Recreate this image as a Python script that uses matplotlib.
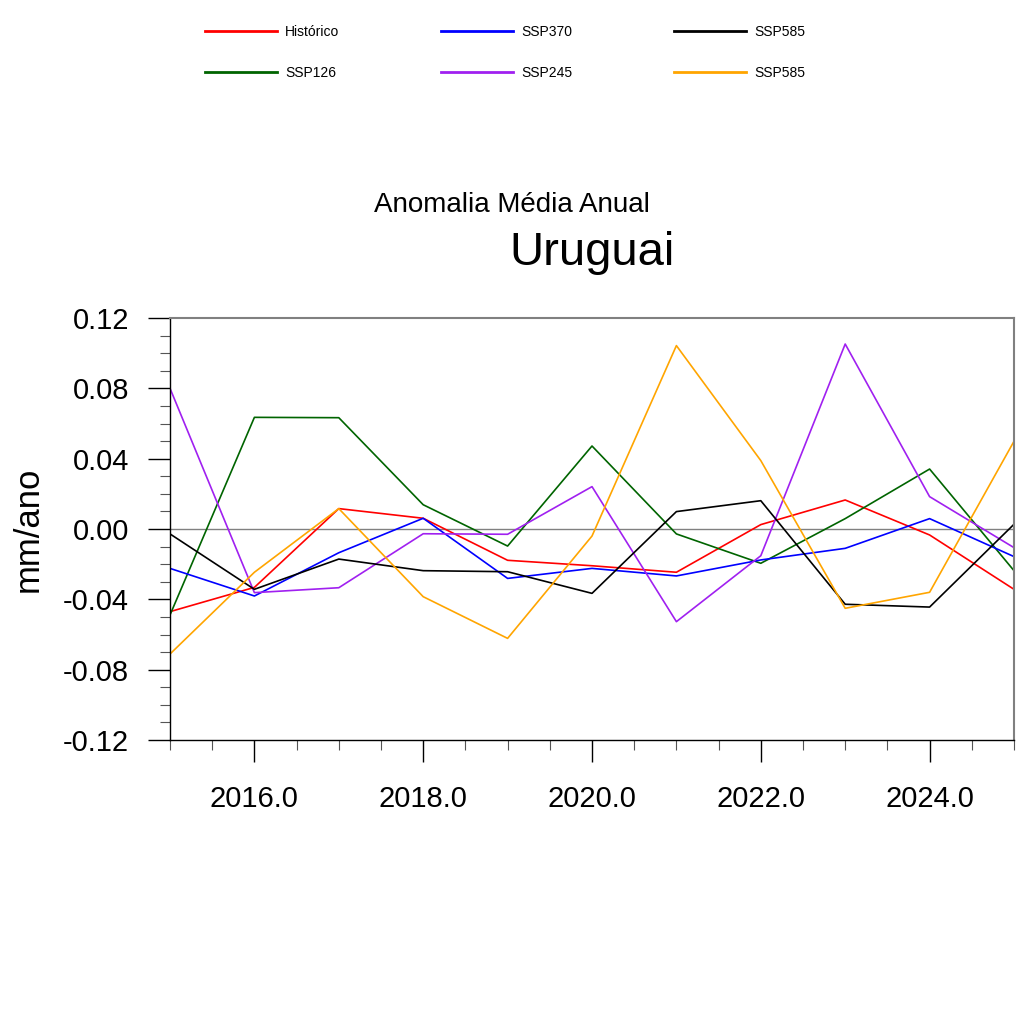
import matplotlib
matplotlib.use("Agg")
import matplotlib.pyplot as plt
import numpy as np
from matplotlib.ticker import MultipleLocator, FormatStrFormatter

plt.rcParams['font.family'] = ['Liberation Sans', 'DejaVu Sans']

anos = [2015, 2016, 2017, 2018, 2019, 2020, 2021, 2022, 2023, 2024, 2025]

historico = [-0.047, -0.0332, 0.0116, 0.0061, -0.0178, -0.0209, -0.0246, 0.0025, 0.0165, -0.0034, -0.0343]
ssp370 = [-0.0224, -0.0381, -0.0135, 0.0061, -0.0281, -0.0224, -0.0267, -0.0176, -0.011, 0.0059, -0.0157]
ssp585_preto = [-0.0028, -0.0343, -0.0171, -0.0237, -0.0243, -0.0366, 0.0099, 0.0161, -0.0428, -0.0444, 0.0027]
ssp126 = [-0.0489, 0.0635, 0.0633, 0.0138, -0.0097, 0.0472, -0.0028, -0.0195, 0.0059, 0.0341, -0.0237]
ssp245 = [0.080, -0.0362, -0.0334, -0.0027, -0.003, 0.0241, -0.0527, -0.0152, 0.1052, 0.0184, -0.0106]
ssp585_laranja = [-0.0711, -0.0246, 0.0116, -0.0385, -0.0622, -0.004, 0.1043, 0.0389, -0.0451, -0.036, 0.0499]

series = [
    ("Histórico", historico, "#FF0000"),
    ("SSP126", ssp126, "#006400"),
    ("SSP370", ssp370, "#0000FF"),
    ("SSP245", ssp245, "#A020F0"),
    ("SSP585", ssp585_preto, "#000000"),
    ("SSP585", ssp585_laranja, "#FFA500"),
]

fig = plt.figure(figsize=(10.24, 10.24), dpi=100)
ax = fig.add_axes([170/1024, 1-740/1024, 844/1024, 422/1024])

ax.axhline(0, color="#808080", lw=1.0, zorder=1)

handles = []
for nome, valores, cor in series:
    ln, = ax.plot(anos, valores, color=cor, lw=1.2, label=nome, zorder=2)
    handles.append(ln)

ax.set_xlim(2015, 2025)
ax.set_ylim(-0.12, 0.12)

ax.xaxis.set_major_locator(MultipleLocator(2))
ax.xaxis.set_minor_locator(MultipleLocator(0.5))
ax.xaxis.set_major_formatter(FormatStrFormatter("%.1f"))
ax.yaxis.set_major_locator(MultipleLocator(0.04))
ax.yaxis.set_minor_locator(MultipleLocator(0.01))
ax.yaxis.set_major_formatter(FormatStrFormatter("%.2f"))

ax.tick_params(axis="both", which="major", direction="out", length=15.5, width=1.0,
               labelsize=21, pad=14)
ax.tick_params(axis="x", which="major", pad=17)
ax.tick_params(axis="both", which="minor", direction="out", length=7.5, width=0.8,
               color="#555555")
ax.tick_params(top=False, right=False, which="both")

for s in ["top", "right"]:
    ax.spines[s].set_color("#808080")
    ax.spines[s].set_linewidth(1.5)
for s in ["left", "bottom"]:
    ax.spines[s].set_color("black")
    ax.spines[s].set_linewidth(1.0)

ax.set_ylabel("mm/ano", fontsize=25)
ax.yaxis.set_label_coords(-0.149, 0.5)

fig.text(512/1024, 1-212/1024, "Anomalia Média Anual", fontsize=20, ha="center", va="baseline")
fig.text(592/1024, 1-265/1024, "Uruguai", fontsize=34, ha="center", va="baseline")

# legenda em duas linhas, tres colunas
fig.legend(handles, [s[0] for s in series],
           ncol=3, loc="upper left", bbox_to_anchor=(205/1024, 1-25/1024),
           frameon=False, fontsize=10, handlelength=5.2, handletextpad=0.58,
           columnspacing=7.3, labelspacing=1.95, borderpad=0, borderaxespad=0)
for ln in fig.legends[0].get_lines():
    ln.set_linewidth(2.0)

fig.savefig("out.png", dpi=100)
